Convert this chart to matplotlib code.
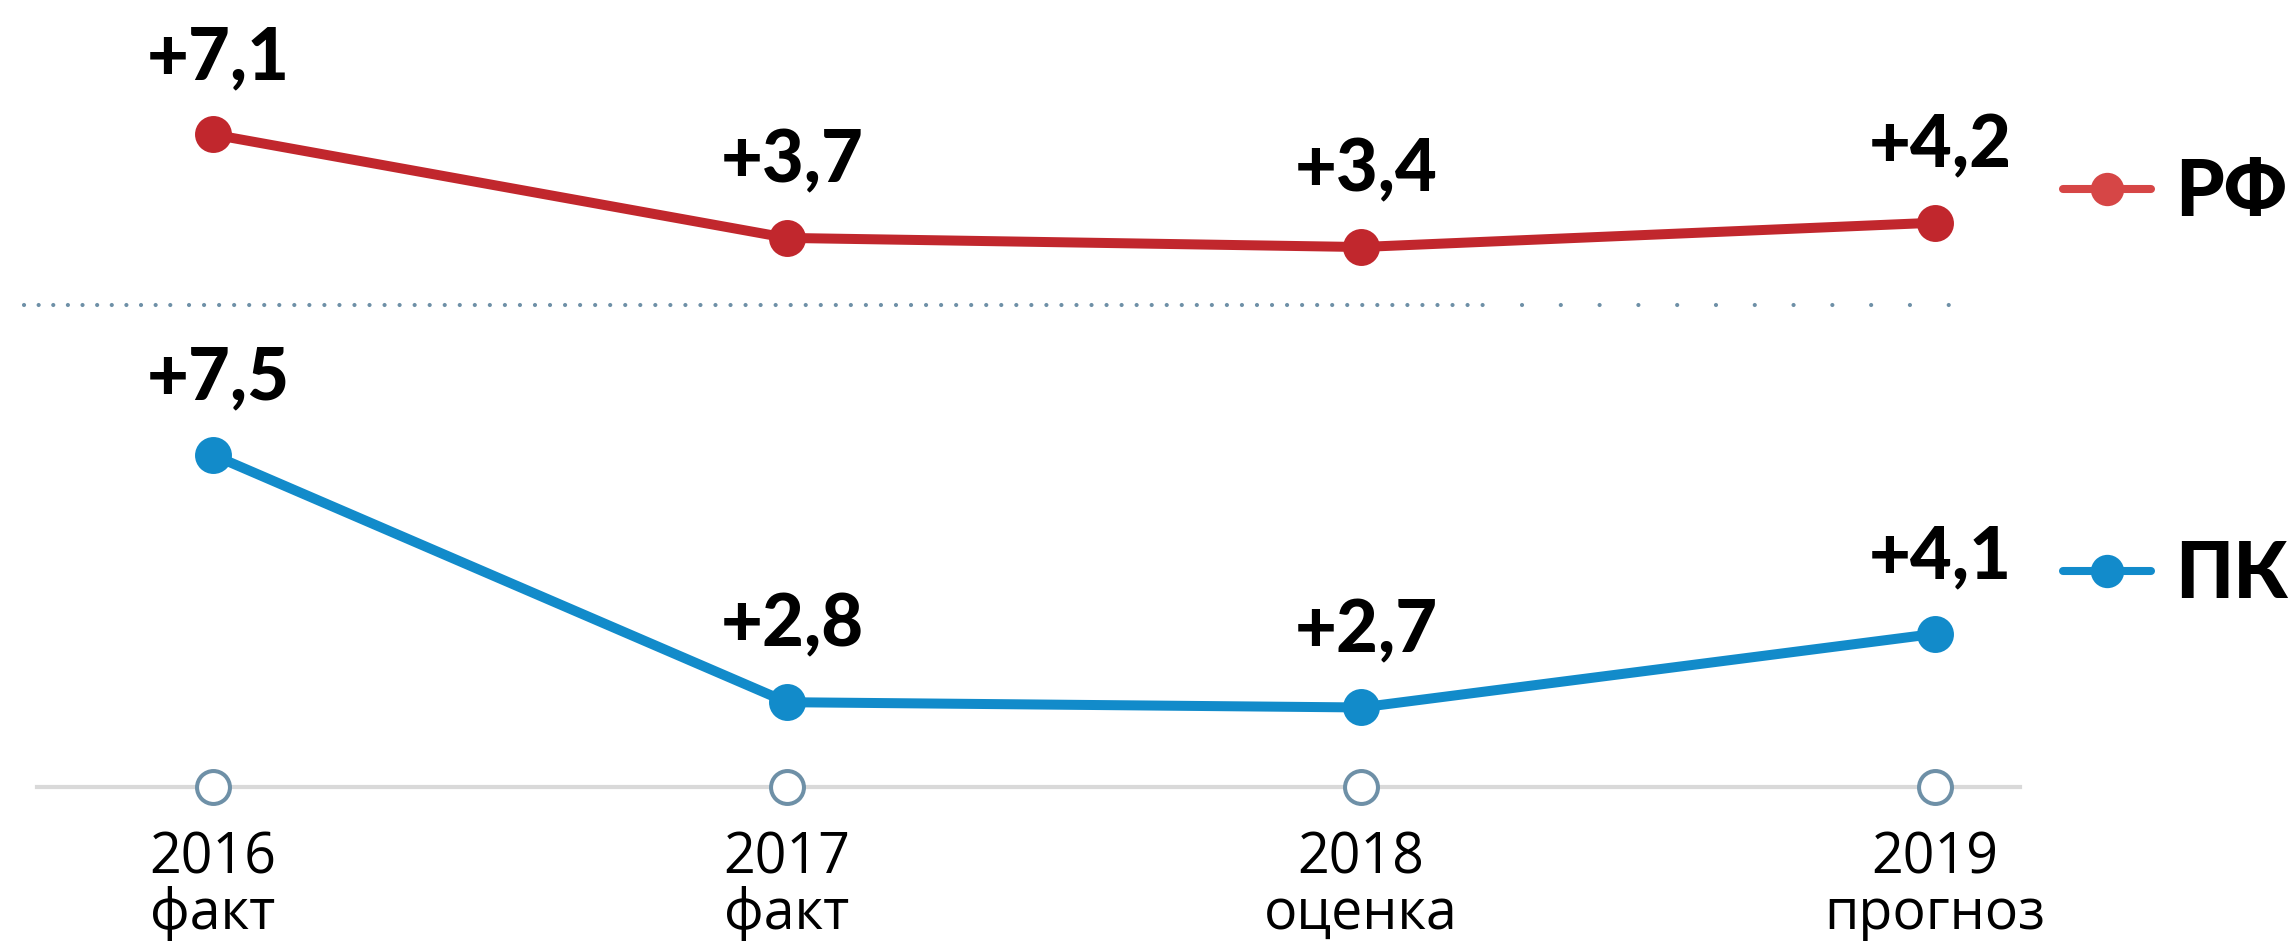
import matplotlib
matplotlib.use("Agg")
import matplotlib.pyplot as plt
from matplotlib.lines import Line2D

# данные
years = ["2016", "2017", "2018", "2019"]
sub_labels = ["факт", "факт", "оценка", "прогноз"]
rf_values = [7.1, 3.7, 3.4, 4.2]
pk_values = [7.5, 2.8, 2.7, 4.1]

W, H = 2295, 941
fig = plt.figure(figsize=(W / 100, H / 100), dpi=100)
fig.patch.set_facecolor("white")

x = list(range(len(years)))
xlim = (-213 / 574, (W - 213) / 574)

# две оси поверх друг друга с разными масштабами по y
ax1 = fig.add_axes([0, 0, 1, 1])
ax2 = fig.add_axes([0, 0, 1, 1])
ax2.patch.set_alpha(0)
for ax in (ax1, ax2):
    ax.set_xlim(*xlim)
    ax.axis("off")
ax1.set_ylim(-19.41, 11.52)
ax2.set_ylim(-1.74, 16.15)

red = "#c1272d"
blue = "#128bca"
grey_blue = "#6e90a7"

# пунктирный разделитель
sep_y = 1 - 305 / H
dot_style = dict(color=grey_blue, lw=3.0, dash_capstyle="round", zorder=1)
ax1.plot([24 / W, 172 / W], [sep_y, sep_y], transform=ax1.transAxes,
         linestyle=(0, (0.01, 3.5)), **dot_style)
ax1.plot([189 / W, 1495 / W], [sep_y, sep_y], transform=ax1.transAxes,
         linestyle=(0, (0.01, 3.6)), **dot_style)
ax1.plot([1522 / W, 1975 / W], [sep_y, sep_y], transform=ax1.transAxes,
         linestyle=(0, (0.01, 9.3)), **dot_style)

# линии
ax1.plot(x, rf_values, color=red, lw=7.2, marker="o", ms=26.6, mew=0,
         solid_capstyle="round", zorder=3)
ax2.plot(x, pk_values, color=blue, lw=7.2, marker="o", ms=26.6, mew=0,
         solid_capstyle="round", zorder=3)

# подписи значений
lab_font = dict(family=["Lato", "DejaVu Sans"], fontweight="black", fontsize=52,
                ha="center", va="baseline", color="black")
for ax, vals in ((ax1, rf_values), (ax2, pk_values)):
    for xi, v in zip(x, vals):
        txt = "+" + f"{v:.1f}".replace(".", ",")
        ax.annotate(txt, (xi, v), xytext=(4, 40), textcoords="offset points",
                    **lab_font)

# ось времени
base_y = 1 - 787 / H
ax2.plot([37 / W, 2020 / W], [base_y, base_y], transform=ax2.transAxes,
         color="#d9d9d9", lw=3, zorder=1)
ax2.plot(x, [base_y] * len(x), "o", transform=ax2.get_xaxis_transform(),
         ms=23.7, mfc="white", mec=grey_blue, mew=2.9, zorder=2)

# va="baseline" у многострочного текста ставит по базовой линии последней строки
for xi, yr, sl in zip(x, years, sub_labels):
    ax2.text(xi, 1 - 929 / H, yr + "\n" + sl, transform=ax2.get_xaxis_transform(),
             ha="center", va="baseline", ma="center", linespacing=0.97,
             fontsize=40, family="Open Sans")

# легенды
leg_font = dict(family="Lato", weight="black", size=56)
em = leg_font["size"] * 100 / 72
for ax, col, name, yc in ((ax1, "#d64646", "РФ", 194), (ax2, "#128bcb", "ПК", 576)):
    h = Line2D([], [], color=col, lw=5.8, marker="o", ms=24, mew=0,
               solid_capstyle="round")
    ax.legend(handles=[h], labels=[name], loc="center left",
              bbox_to_anchor=(2063 / W, 1 - yc / H), bbox_transform=fig.transFigure,
              frameon=False, borderpad=0, borderaxespad=0,
              handlelength=88 / em, handletextpad=24 / em,
              numpoints=1, prop=leg_font)

fig.savefig("out.png", dpi=100, facecolor="white")
